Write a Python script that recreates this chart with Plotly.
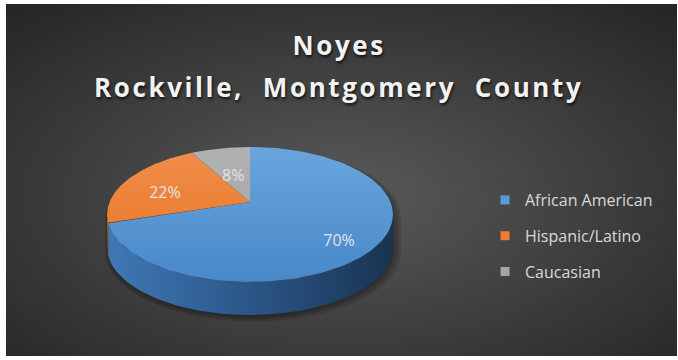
import base64
import numpy as np
import plotly.graph_objects as go

# ---- data -------------------------------------------------------------
categories = ["African American", "Hispanic/Latino", "Caucasian"]
shares = [70, 22, 8]
pct_labels = ["70%", "22%", "8%"]
title_lines = ["Noyes", "Rockville,\u00a0\u00a0Montgomery\u00a0\u00a0County"]

# ---- styling ----------------------------------------------------------
top_colors = [["#6aa5dd", "#4888c9"], ["#f08e4c", "#e8721f"], ["#b1b1b1", "#a2a2a2"]]
side_colors = [[[0, "#3f79b6"], [0.5, "#2b5687"], [1, "#1a3452"]],
               [[0, "#c4621f"], [1, "#a04e16"]],
               [[0, "#8a8a8a"], [1, "#6e6e6e"]]]
legend_colors = ["#5b9bd5", "#ed7d31", "#a5a5a5"]
label_radius = [0.77, 0.64, 0.47]

W, H = 678, 360
AX, AY = 250, 202      # projected centre of the disc (apex of the wedges)
KX = 140.5             # horizontal scale of the projected disc
KY = 65.2              # vertical scale of the projected disc
PERSP = 0.185          # foreshortening of the far half
DEPTH = 33             # thickness of the disc


def project(theta_deg, r=1.0, dy=0.0):
    """Perspective view of a point on the disc (clockwise from 12 o'clock)."""
    t = np.radians(theta_deg)
    u, v = r * np.sin(t), r * np.cos(t)
    d = 1.0 + PERSP * v
    return AX + KX * u / d, AY - KY * v / d + dy


def label_anchor(theta_deg, f):
    """Point a fraction f of the way from the apex towards the rim."""
    t = np.radians(theta_deg)
    cy = AY + 12.5
    rx, ry = 143.0, 67.5
    ex, ey = AX + rx * np.sin(t), cy - ry * np.cos(t)
    return AX + f * (ex - AX), AY + f * (ey - AY)


fig = go.Figure()

# slice boundaries, clockwise from 12 o'clock
total = float(sum(shares))
bounds = np.concatenate([[0.0], np.cumsum(shares) / total * 360.0])

# silhouette of the disc: the side wall is visible between these angles
sil = np.degrees(np.arccos(-PERSP))
front_lo, front_hi = sil, 360.0 - sil

# soft drop shadow behind the disc
th_back = np.linspace(-sil, sil, 120)
th_front = np.linspace(sil, 360.0 - sil, 160)
bx, by = project(th_back)
fx, fy = project(th_front, dy=DEPTH)
ox, oy = np.concatenate([bx, fx]), np.concatenate([by, fy])
mcx, mcy = ox.mean(), oy.mean()
for s, (sx, sy) in zip([1.035, 1.02, 1.005], [(3, 4), (2, 3), (1, 2)]):
    fig.add_trace(go.Scatter(
        x=mcx + s * (ox - mcx) + sx, y=mcy + s * (oy - mcy) + sy,
        mode="lines", fill="toself", line=dict(width=0),
        fillcolor="rgba(0,0,0,0.13)", hoverinfo="skip", showlegend=False))

# side walls
for i, cat in enumerate(categories):
    lo, hi = max(bounds[i], front_lo), min(bounds[i + 1], front_hi)
    if hi <= lo:
        continue
    th = np.linspace(lo, hi, 90)
    xt, yt = project(th)
    xb, yb = project(th[::-1], dy=DEPTH)
    fig.add_trace(go.Scatter(
        x=np.concatenate([xt, xb, xt[:1]]), y=np.concatenate([yt, yb, yt[:1]]),
        mode="lines", fill="toself", line=dict(width=0),
        fillgradient=dict(type="horizontal", colorscale=side_colors[i],
                          start=AX - 143, stop=AX + 143),
        hoverinfo="skip", showlegend=False))

# top faces
for i, cat in enumerate(categories):
    th = np.linspace(bounds[i], bounds[i + 1], 140)
    xa, ya = project(th)
    fig.add_trace(go.Scatter(
        x=np.concatenate([[AX], xa, [AX]]), y=np.concatenate([[AY], ya, [AY]]),
        mode="lines", fill="toself", line=dict(width=0),
        fillgradient=dict(type="vertical",
                          colorscale=[[0, top_colors[i][0]], [1, top_colors[i][1]]],
                          start=147, stop=282),
        hoverinfo="skip", showlegend=False))

# percentage labels at each wedge's mid angle
mids = (bounds[:-1] + bounds[1:]) / 2.0
lx, ly = label_anchor(mids, np.array(label_radius))
fig.add_trace(go.Scatter(
    x=lx, y=ly, mode="text", text=pct_labels,
    textfont=dict(family="Open Sans", size=16, color="#e4e4e4"),
    hoverinfo="skip", showlegend=False))

# legend entries
for i, cat in enumerate(categories):
    fig.add_trace(go.Scatter(
        x=[None], y=[None], mode="markers", name=cat, legendgroup=cat,
        marker=dict(symbol="square", size=9, color=legend_colors[i])))

# title
for line, ypix in zip(title_lines, [45, 87]):
    fig.add_annotation(
        x=0.5, xref="paper", y=ypix, yref="y", text=line, showarrow=False,
        xanchor="center", yanchor="middle",
        font=dict(family="Open Sans", size=26, color="#f2f2f2", weight="bold",
                  shadow="1px 2px 3px rgba(0,0,0,0.75)"))

# dark radial backdrop
svg = ('<svg xmlns="http://www.w3.org/2000/svg" width="671" height="352">'
       '<defs><radialGradient id="g" cx="50%" cy="55%" r="72%">'
       '<stop offset="0" stop-color="#5a5a5a"/><stop offset="1" stop-color="#262626"/>'
       '</radialGradient></defs><rect width="100%" height="100%" fill="url(#g)"/></svg>')
src = "data:image/svg+xml;base64," + base64.b64encode(svg.encode()).decode()
fig.add_layout_image(dict(source=src, xref="paper", yref="paper",
                          x=6 / W, y=1 - 4 / H, sizex=671 / W, sizey=352 / H,
                          xanchor="left", yanchor="top", sizing="stretch",
                          layer="below"))

fig.update_layout(
    width=W, height=H, margin=dict(l=0, r=0, t=0, b=0),
    paper_bgcolor="white", plot_bgcolor="rgba(0,0,0,0)",
    xaxis=dict(range=[0, W], visible=False, fixedrange=True),
    yaxis=dict(range=[H, 0], visible=False, fixedrange=True),
    legend=dict(x=485 / W, y=1 - 183 / H, xanchor="left", yanchor="top",
                bgcolor="rgba(0,0,0,0)", tracegroupgap=12,
                font=dict(family="Open Sans", size=16, color="#d9d9d9")),
)

# widen the tracking of the title lines
tracking = """
var gd = document.getElementById('{plot_id}');
gd.querySelectorAll('.annotation-text').forEach(function (t) { t.style.letterSpacing = '2.6px'; });
"""

fig.write_html("out.html", post_script=tracking)
